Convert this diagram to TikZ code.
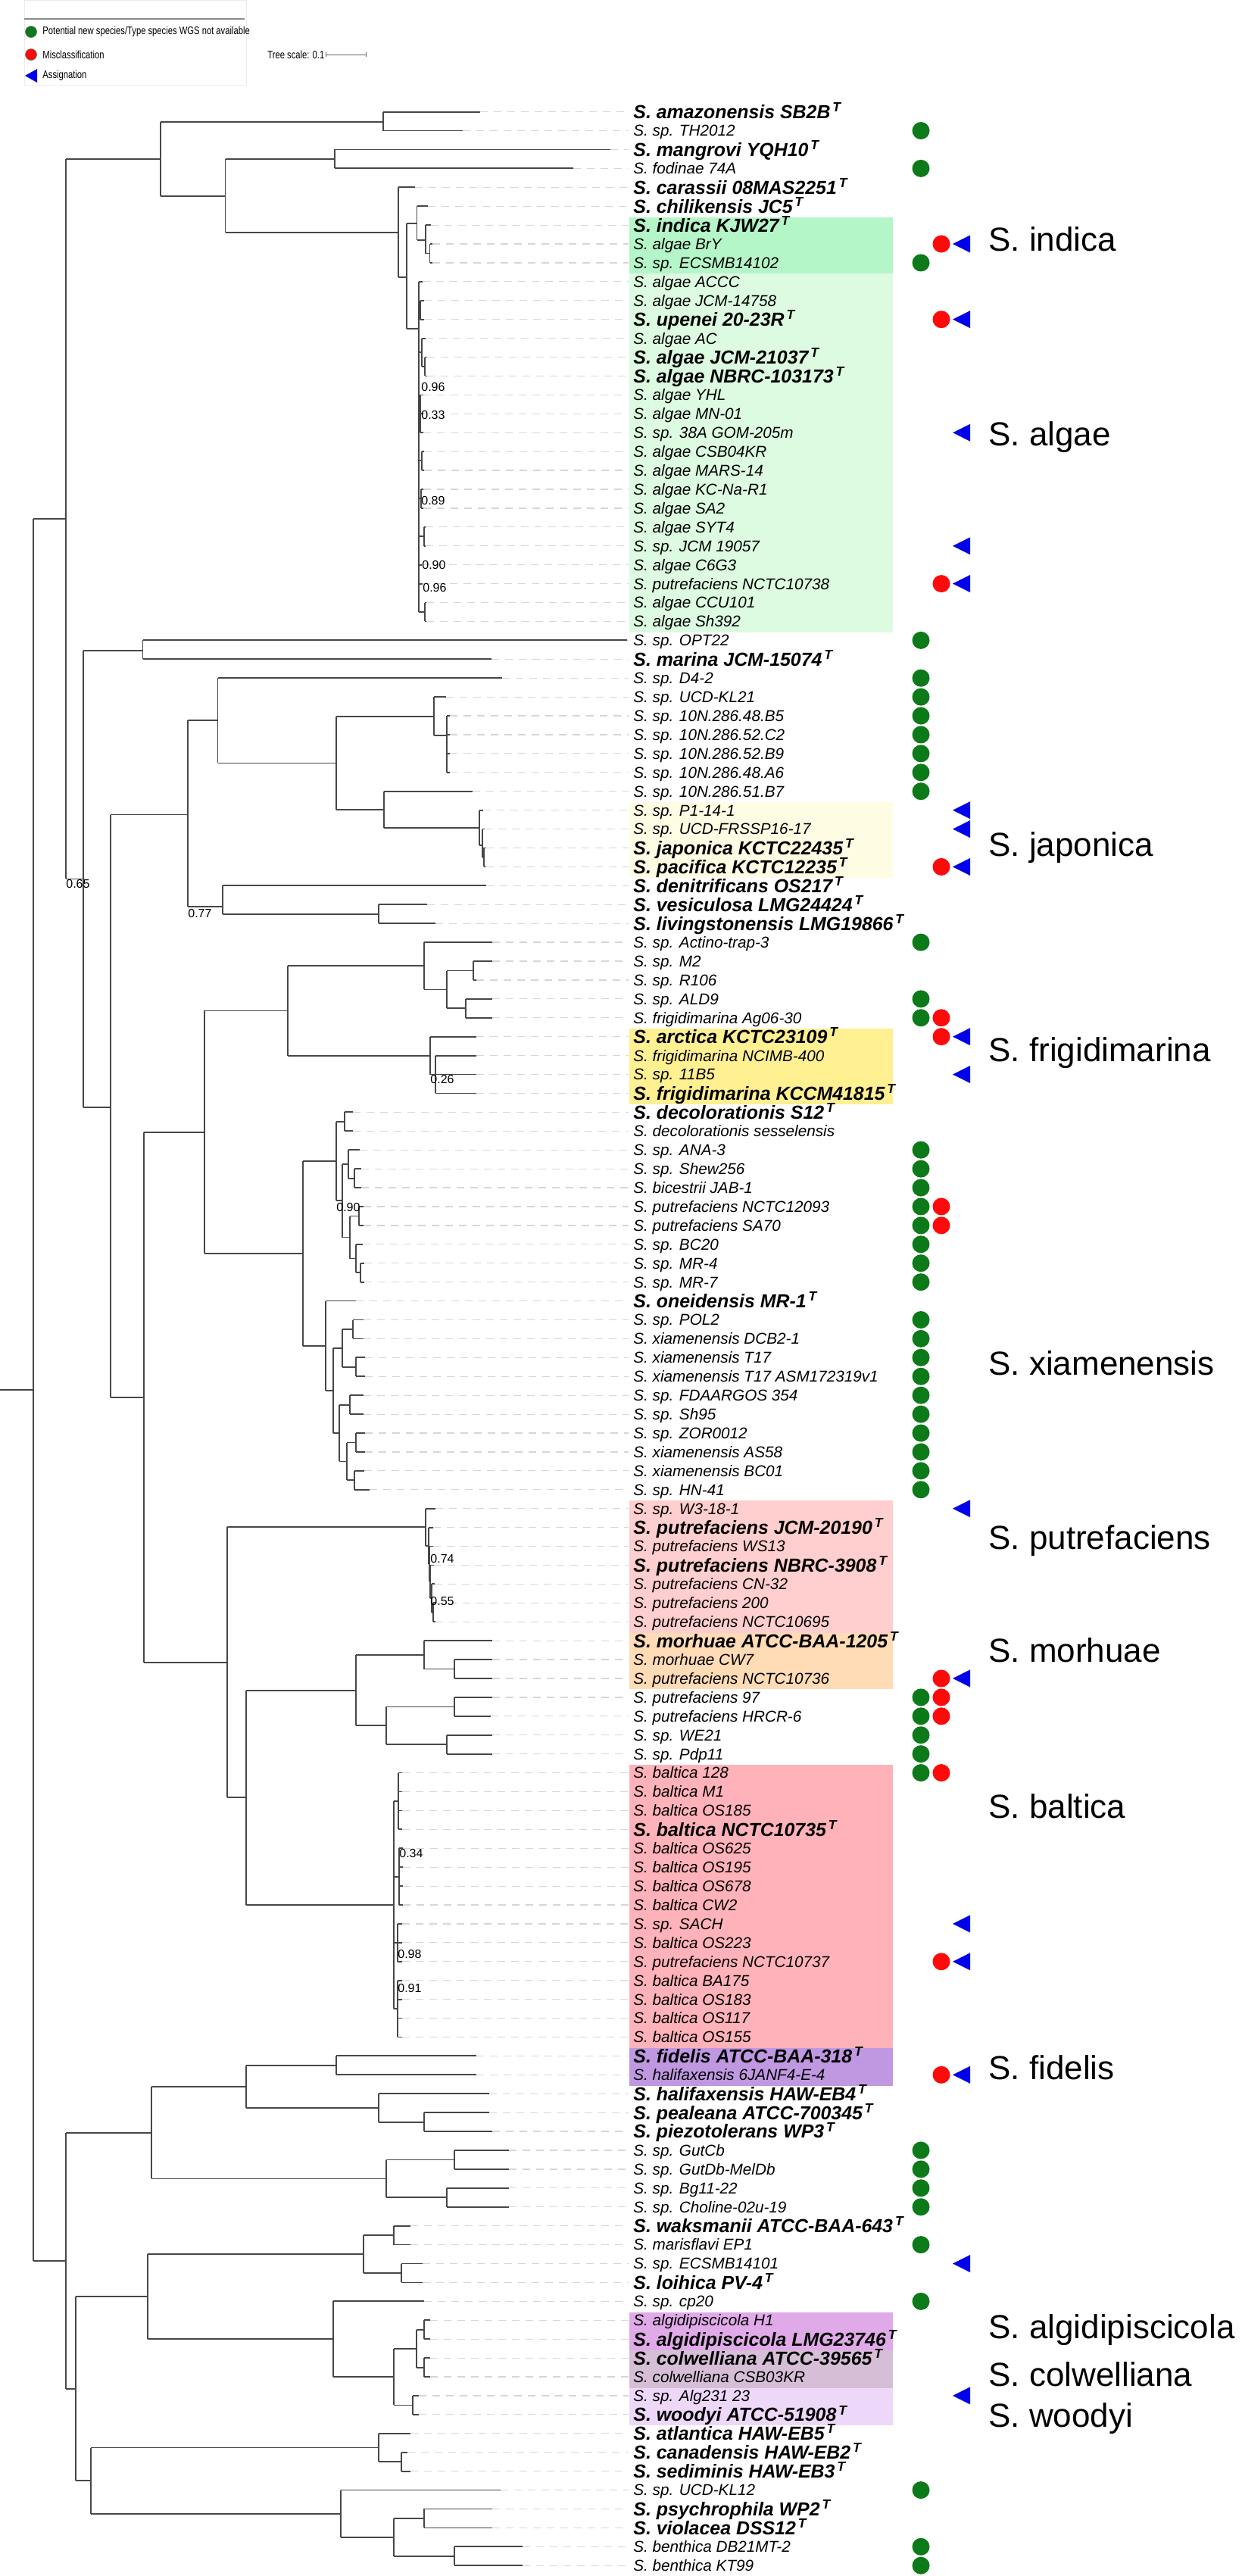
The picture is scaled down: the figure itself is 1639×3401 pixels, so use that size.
\documentclass[tikz,border=0pt]{standalone}
\usepackage{fontspec}
\setmainfont{Liberation Sans}
\usepackage{graphicx}
\definecolor{mgreen}{RGB}{12,122,24}
\definecolor{mred}{RGB}{255,10,10}
\definecolor{mblue}{RGB}{0,0,235}
\definecolor{cIndica}{RGB}{180,246,200}
\definecolor{cAlgae}{RGB}{220,251,224}
\definecolor{cJap}{RGB}{255,252,228}
\definecolor{cFrig}{RGB}{255,240,145}
\definecolor{cPut}{RGB}{255,206,206}
\definecolor{cMor}{RGB}{255,219,182}
\definecolor{cBal}{RGB}{255,178,186}
\definecolor{cFid}{RGB}{192,152,226}
\definecolor{cAlgi}{RGB}{224,170,232}
\definecolor{cCol}{RGB}{214,190,214}
\definecolor{cWoo}{RGB}{238,216,250}
\pgfmathdeclarefunction{ry}{1}{\pgfmathparse{147.6+(#1-1)*24.92}}
% leaf: row, x from, x tip
\newcommand\Tleaf[3]{\draw[br] (#2,{ry(#1)}) -- (#3,{ry(#1)}); \draw[lead] (#3,{ry(#1)}) -- (830,{ry(#1)});}
% vertical: x, y1, y2 (pixels)
\newcommand\Tv[3]{\draw[br] (#1,#2) -- (#1,#3);}
% vertical between rows
\newcommand\Tvr[3]{\draw[br] (#1,{ry(#2)}) -- (#1,{ry(#3)});}
% horizontal: x1, x2, y
\newcommand\Th[3]{\draw[br] (#1,#3) -- (#2,#3);}
\newcommand\Lab[2]{\node[lab] (L#1) at (836,{ry(#1)+7.4}) {S. #2};}
\newcommand\TLab[2]{\node[tlab] (L#1) at (836,{ry(#1)+8.9}) {S. #2\textsuperscript{\,T}};}
\newcommand\Gd[1]{\node[gdot] (g#1) at (1216,{ry(#1)}) {};}
\newcommand\Rd[1]{\node[rdot] (r#1) at (1243,{ry(#1)}) {};}
\newcommand\Bt[1]{\fill[mblue] (1258,{ry(#1)}) -- (1281,{ry(#1)-11.5}) -- (1281,{ry(#1)+11.5}) -- cycle;}
\newcommand\HBox[3]{\fill[#1] (831,{ry(#2)-10.4}) rectangle (1179,{ry(#3)+14.5});}
\begin{document}
\begin{tikzpicture}[x=0.5pt,y=-0.5pt,
  br/.style={draw=black!72, line width=0.9pt},
  lead/.style={draw=black!16, dash pattern=on 5pt off 4pt, line width=0.6pt},
  lab/.style={anchor=base west, inner sep=0pt, font=\fontsize{10.35}{12}\selectfont\itshape},
  tlab/.style={anchor=base west, inner sep=0pt, font=\fontsize{12.45}{14}\selectfont\bfseries\itshape},
  grp/.style={anchor=west, inner sep=0pt, font=\fontsize{22}{26}\selectfont},
  boot/.style={anchor=west, inner sep=0pt, font=\fontsize{8}{9}\selectfont},
  gdot/.style={circle, fill=mgreen, minimum size=11.5pt, inner sep=0pt},
  rdot/.style={circle, fill=mred, minimum size=11.5pt, inner sep=0pt},
  leg/.style={anchor=west, inner sep=0pt, font=\fontsize{7.2}{8}\selectfont}]
\useasboundingbox (0,0) rectangle (1639,3401);
\fill[white] (0,0) rectangle (1639,3401);
% legend
\draw[black!8] (32,0) rectangle (325,112);
\draw[black!45, line width=0.6pt] (32,25) -- (323,25);
\node[circle, fill=mgreen, draw=black!60, line width=0.3pt, minimum size=7.5pt, inner sep=0pt] (lg) at (41,42) {};
\node[circle, fill=mred, draw=black!60, line width=0.3pt, minimum size=7.5pt, inner sep=0pt] (lr) at (41,72) {};
\fill[mblue] (33,100) -- (49,91) -- (49,109) -- cycle;
\node[leg] (t1) at (56,42) {\scalebox{0.78}[1]{Potential new species/Type species WGS not available}};
\node[leg] (t2) at (56,72) {\scalebox{0.78}[1]{Misclassification}};
\node[leg] (t3) at (56,100) {\scalebox{0.78}[1]{Assignation}};
\node[leg] (ts) at (353,72) {\scalebox{0.78}[1]{Tree scale: 0.1}};
\draw[black!60, line width=0.5pt] (430,72) -- (483,72) (430,69) -- (430,75) (483,69) -- (483,75);
% highlight boxes
\HBox{cIndica}{7}{9}
\HBox{cAlgae}{10}{28}
\HBox{cJap}{38}{41}
\HBox{cFrig}{50}{53}
\HBox{cPut}{75}{81}
\HBox{cMor}{82}{84}
\HBox{cBal}{89}{103}
\HBox{cFid}{104}{105}
\HBox{cAlgi}{118}{119}
\HBox{cCol}{120}{121}
\HBox{cWoo}{122}{123}
% ---------------- tree ----------------
\Th{0}{44}{1834.7}
\Tv{44}{684.7}{2984.7}
\Th{44}{87.3}{684.7}
\Tv{87.3}{209.8}{1160.4}
\Th{87.3}{211.8}{209.8}
\Tv{211.8}{160.7}{259}
\Th{211.8}{505.6}{160.7}
\Tvr{505.6}{1}{2} \Tleaf{1}{505.6}{633.7} \Tleaf{2}{505.6}{611.4}
\Th{211.8}{297.5}{259}
\Tv{297.5}{209.9}{306.6}
\Th{297.5}{442}{209.9}
\Tvr{442}{3}{4} \Tleaf{3}{442}{805.7} \Tleaf{4}{442}{757}
\Th{297.5}{525.7}{306.6}
\Tv{525.7}{247.3}{366} \Tleaf{5}{525.7}{548}
\Th{525.7}{537}{366}
\Tv{537}{295}{434}
\Th{537}{550.5}{295}
\Tv{550.5}{272.2}{317} \Tleaf{6}{550.5}{565.4}
\Th{550.5}{562}{317}
\Tv{562}{297.1}{334.5} \Tleaf{7}{562}{569}
\Th{562}{567.5}{334.5}
\Tvr{567.5}{8}{9} \Tleaf{8}{567.5}{571} \Tleaf{9}{567.5}{571}
\Th{537}{553}{434}
% algae clade
\Tv{553}{371.9}{808}
\Tleaf{10}{553}{558}
\Th{553}{555}{409} \Tvr{555}{11}{12} \Tleaf{11}{555}{560} \Tleaf{12}{555}{560}
\Th{553}{557}{465} \Tv{557}{446.6}{484} \Tleaf{13}{557}{562} \Th{557}{561}{484} \Tvr{561}{14}{15} \Tleaf{14}{561}{564} \Tleaf{15}{561}{564}
\Th{553}{555}{546} \Tvr{555}{16}{18} \Tleaf{16}{555}{559} \Tleaf{17}{555}{559} \Tleaf{18}{555}{559}
\Th{553}{557}{608} \Tvr{557}{19}{20} \Tleaf{19}{557}{560} \Tleaf{20}{557}{560}
\Th{553}{556}{658} \Tvr{556}{21}{22} \Tleaf{21}{556}{559} \Tleaf{22}{556}{559}
\Th{553}{560}{708} \Tvr{560}{23}{24} \Tleaf{23}{560}{562} \Tleaf{24}{560}{562}
\Tleaf{25}{553}{557} \Tleaf{26}{553}{558}
\Th{553}{561}{808} \Tvr{561}{27}{28} \Tleaf{27}{561}{563} \Tleaf{28}{561}{563}
% lower part of upper clade
\Th{87.3}{110}{1160.4}
\Tv{110}{858.7}{1462}
\Th{110}{188.5}{858.7}
\Tvr{188.5}{29}{30} \Tleaf{29}{188.5}{828} \Tleaf{30}{188.5}{648.5}
\Th{110}{145.6}{1462}
\Tv{145.6}{1075.5}{1844.8}
\Th{145.6}{248.3}{1075.5}
\Tv{248.3}{951}{1196.8}
\Th{248.3}{287.5}{951}
\Tv{287.5}{895.2}{1007.4} \Tleaf{31}{287.5}{662.8}
\Th{287.5}{443.6}{1007.4}
\Tv{443.6}{945.7}{1069}
\Th{443.6}{573.3}{945.7}
\Tv{573.3}{920.1}{971} \Tleaf{32}{573.3}{589}
\Th{573.3}{590.3}{971}
\Tvr{590.3}{33}{36} \foreach \r in {33,...,36} {\Tleaf{\r}{590.3}{594}}
\Th{443.6}{507.2}{1069}
\Tv{507.2}{1044.6}{1093} \Tleaf{37}{507.2}{623.6}
\Th{507.2}{632.6}{1093}
\Tv{632.6}{1069.6}{1116} \Tleaf{38}{632.6}{638}
\Th{632.6}{636.8}{1116}
\Tv{636.8}{1094.5}{1131.9} \Tleaf{39}{636.8}{640}
\Th{636.8}{639}{1131.9}
\Tvr{639}{40}{41} \Tleaf{40}{639}{642} \Tleaf{41}{639}{642}
\Th{248.3}{293.8}{1196.8}
\Tv{293.8}{1169.3}{1206.7} \Tleaf{42}{293.8}{641.6}
\Th{293.8}{500}{1206.7}
\Tv{500}{1194.2}{1219.1} \Tleaf{43}{500}{563.8} \Tleaf{44}{500}{575}
% frigidimarina + xiamenensis
\Th{145.6}{190}{1844.8}
\Tv{190}{1494.7}{2194.8}
\Th{190}{270}{1494.7}
\Tv{270}{1334.4}{1654.9}
\Th{270}{380}{1334.4}
\Tv{380}{1275.2}{1393.6}
\Th{380}{560}{1275.2}
\Tv{560}{1244.1}{1306.4} \Tleaf{45}{560}{650}
\Th{560}{590}{1306.4}
\Tv{590}{1281.5}{1331.3}
\Th{590}{625}{1281.5} \Tvr{625}{46}{47} \Tleaf{46}{625}{650} \Tleaf{47}{625}{629}
\Th{590}{615}{1331.3} \Tvr{615}{48}{49} \Tleaf{48}{615}{650} \Tleaf{49}{615}{650}
\Th{380}{568}{1393.6}
\Tv{568}{1368.7}{1418.5} \Tleaf{50}{568}{629}
\Th{568}{575}{1418.5} \Tvr{575}{51}{53} \Tleaf{51}{575}{629} \Tleaf{52}{575}{629} \Tleaf{53}{575}{629}
\Th{270}{400}{1654.9}
\Tv{400}{1533}{1776.8}
\Th{400}{444}{1533}
\Tv{444}{1480.9}{1585.2}
\Th{444}{455}{1480.9} \Tvr{455}{54}{55} \Tleaf{54}{455}{466} \Tleaf{55}{455}{466}
\Th{444}{452}{1585.2}
\Tv{452}{1536.9}{1633.5}
\Th{452}{460}{1536.9} \Tv{460}{1518.2}{1555.6} \Tleaf{56}{460}{475}
\Th{460}{468}{1555.6} \Tvr{468}{57}{58} \Tleaf{57}{468}{477} \Tleaf{58}{468}{477}
\Th{452}{462}{1633.5} \Tv{462}{1605.5}{1661.5}
\Th{462}{474}{1605.5} \Tvr{474}{59}{60} \Tleaf{59}{474}{480} \Tleaf{60}{474}{480}
\Th{462}{470}{1661.5} \Tv{470}{1642.8}{1680.2} \Tleaf{61}{470}{479}
\Th{470}{476}{1680.2} \Tvr{476}{62}{63} \Tleaf{62}{476}{481} \Tleaf{63}{476}{481}
\Th{400}{430}{1776.8}
\Tv{430}{1717.6}{1836} \Tleaf{64}{430}{470}
\Th{430}{440}{1836}
\Tv{440}{1779.9}{1892}
\Th{440}{452}{1779.9} \Tv{452}{1755}{1804.8}
\Th{452}{466}{1755} \Tvr{466}{65}{66} \Tleaf{65}{466}{480} \Tleaf{66}{466}{480}
\Th{452}{470}{1804.8} \Tvr{470}{67}{68} \Tleaf{67}{470}{482} \Tleaf{68}{470}{482}
\Th{440}{448}{1892} \Tv{448}{1854.6}{1929.4}
\Th{448}{462}{1854.6} \Tvr{462}{69}{70} \Tleaf{69}{462}{480} \Tleaf{70}{462}{480}
\Th{448}{458}{1929.4} \Tv{458}{1904.5}{1954.3}
\Th{458}{470}{1904.5} \Tvr{470}{71}{72} \Tleaf{71}{470}{482} \Tleaf{72}{470}{482}
\Th{458}{468}{1954.3} \Tvr{468}{73}{74} \Tleaf{73}{468}{481} \Tleaf{74}{468}{488}
% putrefaciens / morhuae / baltica
\Th{190}{300}{2194.8}
\Tv{300}{2016.3}{2373.3}
\Th{300}{562}{2016.3}
\Tv{562}{1991.7}{2040.8} \Tleaf{75}{562}{575}
\Th{562}{566}{2040.8} \Tv{566}{2016.6}{2064.9} \Tleaf{76}{566}{572}
\Th{566}{567}{2064.9} \Tv{567}{2041.5}{2088.3} \Tleaf{77}{567}{572}
\Th{567}{568}{2088.3} \Tv{568}{2066.4}{2110.1} \Tleaf{78}{568}{573}
\Th{568}{570}{2110.1} \Tv{570}{2091.4}{2128.8} \Tleaf{79}{570}{574}
\Th{570}{572}{2128.8} \Tvr{572}{80}{81} \Tleaf{80}{572}{575} \Tleaf{81}{572}{575}
\Th{300}{325}{2373.3}
\Tv{325}{2231.6}{2515}
\Th{325}{470}{2231.6}
\Tv{470}{2184.8}{2278.3}
\Th{470}{560}{2184.8} \Tv{560}{2166.1}{2203.5} \Tleaf{82}{560}{650}
\Th{560}{600}{2203.5} \Tvr{600}{83}{84} \Tleaf{83}{600}{650} \Tleaf{84}{600}{650}
\Th{470}{510}{2278.3} \Tv{510}{2253.4}{2303.2}
\Th{510}{600}{2253.4} \Tvr{600}{85}{86} \Tleaf{85}{600}{650} \Tleaf{86}{600}{648}
\Th{510}{590}{2303.2} \Tvr{590}{87}{88} \Tleaf{87}{590}{650} \Tleaf{88}{590}{650}
\Th{325}{520}{2515}
\Tv{520}{2378}{2652}
\Th{520}{526}{2378} \Tvr{526}{89}{92} \foreach \r in {89,...,92} {\Tleaf{\r}{526}{531}}
\Th{520}{527}{2477.6} \Tvr{527}{93}{96} \foreach \r in {93,...,96} {\Tleaf{\r}{527}{532}}
\Th{520}{525}{2564.8} \Tvr{525}{97}{99} \foreach \r in {97,...,99} {\Tleaf{\r}{525}{531}}
\Th{520}{525}{2652} \Tvr{525}{100}{103} \foreach \r in {100,...,103} {\Tleaf{\r}{525}{531}}
% bottom clade
\Th{44}{87}{2984.7}
\Tv{87}{2815.7}{3153.6}
\Th{87}{200}{2815.7}
\Tv{200}{2754.9}{2876.4}
\Th{200}{325}{2754.9}
\Tv{325}{2726.9}{2782.9}
\Th{325}{444}{2726.9} \Tvr{444}{104}{105} \Tleaf{104}{444}{629} \Tleaf{105}{444}{629}
\Th{325}{500}{2782.9} \Tv{500}{2764.2}{2801.6} \Tleaf{106}{500}{646}
\Th{500}{560}{2801.6} \Tvr{560}{107}{108} \Tleaf{107}{560}{646} \Tleaf{108}{560}{650}
\Th{200}{510}{2876.4} \Tv{510}{2851.5}{2901.3}
\Th{510}{600}{2851.5} \Tvr{600}{109}{110} \Tleaf{109}{600}{672} \Tleaf{110}{600}{672}
\Th{510}{590}{2901.3} \Tvr{590}{111}{112} \Tleaf{111}{590}{672} \Tleaf{112}{590}{672}
\Th{87}{100}{3153.6}
\Tv{100}{3032.1}{3275.1}
\Th{100}{195}{3032.1}
\Tv{195}{2976}{3088.2}
\Th{195}{480}{2976} \Tv{480}{2951.1}{3001}
\Th{480}{520}{2951.1} \Tvr{520}{113}{114} \Tleaf{113}{520}{542} \Tleaf{114}{520}{542}
\Th{480}{530}{3001} \Tvr{530}{115}{116} \Tleaf{115}{530}{558} \Tleaf{116}{530}{558}
\Th{195}{440}{3088.2} \Tv{440}{3038.3}{3138} \Tleaf{117}{440}{560}
\Th{440}{520}{3138} \Tv{520}{3100.6}{3175.4}
\Th{520}{550}{3100.6} \Tv{550}{3075.7}{3125.6}
\Th{550}{560}{3075.7} \Tvr{560}{118}{119} \Tleaf{118}{560}{568} \Tleaf{119}{560}{568}
\Th{550}{560}{3125.6} \Tvr{560}{120}{121} \Tleaf{120}{560}{568} \Tleaf{121}{560}{568}
\Th{520}{545}{3175.4} \Tvr{545}{122}{123} \Tleaf{122}{545}{553} \Tleaf{123}{545}{553}
\Th{100}{120}{3275.1}
\Tv{120}{3231.5}{3318.7}
\Th{120}{500}{3231.5} \Tv{500}{3212.8}{3250.2} \Tleaf{124}{500}{542}
\Th{500}{530}{3250.2} \Tvr{530}{125}{126} \Tleaf{125}{530}{538} \Tleaf{126}{530}{542}
\Th{120}{450}{3318.7} \Tv{450}{3287.5}{3349.9} \Tleaf{127}{450}{661}
\Th{450}{520}{3349.9} \Tv{520}{3324.9}{3374.8}
\Th{520}{560}{3324.9} \Tvr{560}{128}{129} \Tleaf{128}{560}{650} \Tleaf{129}{560}{650}
\Th{520}{600}{3374.8} \Tvr{600}{130}{131} \Tleaf{130}{600}{690} \Tleaf{131}{600}{690}
% bootstrap
\node[boot] at (556,511.4) {0.96};
\node[boot] at (556,547.7) {0.33};
\node[boot] at (556,661.4) {0.89};
\node[boot] at (557,746.4) {0.90};
\node[boot] at (558,775.5) {0.96};
\node[boot] at (87,1167) {0.65};
\node[boot] at (248,1206) {0.77};
\node[boot] at (568,1425) {0.26};
\node[boot] at (444,1594) {0.90};
\node[boot] at (568,2058) {0.74};
\node[boot] at (568,2114) {0.55};
\node[boot] at (527,2447) {0.34};
\node[boot] at (525,2580) {0.98};
\node[boot] at (525,2625) {0.91};
% labels
\TLab{1}{amazonensis SB2B}
\Lab{2}{sp. TH2012}
\TLab{3}{mangrovi YQH10}
\Lab{4}{fodinae 74A}
\TLab{5}{carassii 08MAS2251}
\TLab{6}{chilikensis JC5}
\TLab{7}{indica KJW27}
\Lab{8}{algae BrY}
\Lab{9}{sp. ECSMB14102}
\Lab{10}{algae ACCC}
\Lab{11}{algae JCM-14758}
\TLab{12}{upenei 20-23R}
\Lab{13}{algae AC}
\TLab{14}{algae JCM-21037}
\TLab{15}{algae NBRC-103173}
\Lab{16}{algae YHL}
\Lab{17}{algae MN-01}
\Lab{18}{sp. 38A GOM-205m}
\Lab{19}{algae CSB04KR}
\Lab{20}{algae MARS-14}
\Lab{21}{algae KC-Na-R1}
\Lab{22}{algae SA2}
\Lab{23}{algae SYT4}
\Lab{24}{sp. JCM 19057}
\Lab{25}{algae C6G3}
\Lab{26}{putrefaciens NCTC10738}
\Lab{27}{algae CCU101}
\Lab{28}{algae Sh392}
\Lab{29}{sp. OPT22}
\TLab{30}{marina JCM-15074}
\Lab{31}{sp. D4-2}
\Lab{32}{sp. UCD-KL21}
\Lab{33}{sp. 10N.286.48.B5}
\Lab{34}{sp. 10N.286.52.C2}
\Lab{35}{sp. 10N.286.52.B9}
\Lab{36}{sp. 10N.286.48.A6}
\Lab{37}{sp. 10N.286.51.B7}
\Lab{38}{sp. P1-14-1}
\Lab{39}{sp. UCD-FRSSP16-17}
\TLab{40}{japonica KCTC22435}
\TLab{41}{pacifica KCTC12235}
\TLab{42}{denitrificans OS217}
\TLab{43}{vesiculosa LMG24424}
\TLab{44}{livingstonensis LMG19866}
\Lab{45}{sp. Actino-trap-3}
\Lab{46}{sp. M2}
\Lab{47}{sp. R106}
\Lab{48}{sp. ALD9}
\Lab{49}{frigidimarina Ag06-30}
\TLab{50}{arctica KCTC23109}
\Lab{51}{frigidimarina NCIMB-400}
\Lab{52}{sp. 11B5}
\TLab{53}{frigidimarina KCCM41815}
\TLab{54}{decolorationis S12}
\Lab{55}{decolorationis sesselensis}
\Lab{56}{sp. ANA-3}
\Lab{57}{sp. Shew256}
\Lab{58}{bicestrii JAB-1}
\Lab{59}{putrefaciens NCTC12093}
\Lab{60}{putrefaciens SA70}
\Lab{61}{sp. BC20}
\Lab{62}{sp. MR-4}
\Lab{63}{sp. MR-7}
\TLab{64}{oneidensis MR-1}
\Lab{65}{sp. POL2}
\Lab{66}{xiamenensis DCB2-1}
\Lab{67}{xiamenensis T17}
\Lab{68}{xiamenensis T17 ASM172319v1}
\Lab{69}{sp. FDAARGOS 354}
\Lab{70}{sp. Sh95}
\Lab{71}{sp. ZOR0012}
\Lab{72}{xiamenensis AS58}
\Lab{73}{xiamenensis BC01}
\Lab{74}{sp. HN-41}
\Lab{75}{sp. W3-18-1}
\TLab{76}{putrefaciens JCM-20190}
\Lab{77}{putrefaciens WS13}
\TLab{78}{putrefaciens NBRC-3908}
\Lab{79}{putrefaciens CN-32}
\Lab{80}{putrefaciens 200}
\Lab{81}{putrefaciens NCTC10695}
\TLab{82}{morhuae ATCC-BAA-1205}
\Lab{83}{morhuae CW7}
\Lab{84}{putrefaciens NCTC10736}
\Lab{85}{putrefaciens 97}
\Lab{86}{putrefaciens HRCR-6}
\Lab{87}{sp. WE21}
\Lab{88}{sp. Pdp11}
\Lab{89}{baltica 128}
\Lab{90}{baltica M1}
\Lab{91}{baltica OS185}
\TLab{92}{baltica NCTC10735}
\Lab{93}{baltica OS625}
\Lab{94}{baltica OS195}
\Lab{95}{baltica OS678}
\Lab{96}{baltica CW2}
\Lab{97}{sp. SACH}
\Lab{98}{baltica OS223}
\Lab{99}{putrefaciens NCTC10737}
\Lab{100}{baltica BA175}
\Lab{101}{baltica OS183}
\Lab{102}{baltica OS117}
\Lab{103}{baltica OS155}
\TLab{104}{fidelis ATCC-BAA-318}
\Lab{105}{halifaxensis 6JANF4-E-4}
\TLab{106}{halifaxensis HAW-EB4}
\TLab{107}{pealeana ATCC-700345}
\TLab{108}{piezotolerans WP3}
\Lab{109}{sp. GutCb}
\Lab{110}{sp. GutDb-MelDb}
\Lab{111}{sp. Bg11-22}
\Lab{112}{sp. Choline-02u-19}
\TLab{113}{waksmanii ATCC-BAA-643}
\Lab{114}{marisflavi EP1}
\Lab{115}{sp. ECSMB14101}
\TLab{116}{loihica PV-4}
\Lab{117}{sp. cp20}
\Lab{118}{algidipiscicola H1}
\TLab{119}{algidipiscicola LMG23746}
\TLab{120}{colwelliana ATCC-39565}
\Lab{121}{colwelliana CSB03KR}
\Lab{122}{sp. Alg231 23}
\TLab{123}{woodyi ATCC-51908}
\TLab{124}{atlantica HAW-EB5}
\TLab{125}{canadensis HAW-EB2}
\TLab{126}{sediminis HAW-EB3}
\Lab{127}{sp. UCD-KL12}
\TLab{128}{psychrophila WP2}
\TLab{129}{violacea DSS12}
\Lab{130}{benthica DB21MT-2}
\Lab{131}{benthica KT99}
% markers
\foreach \r in {2,4,9,29,31,32,33,34,35,36,37,45,48,49,56,57,58,59,60,61,62,63,65,66,67,68,69,70,71,72,73,74,85,86,87,88,89,109,110,111,112,114,117,127,130,131} {\Gd{\r}}
\foreach \r in {8,12,26,41,49,50,59,60,84,85,86,89,99,105} {\Rd{\r}}
\foreach \r in {8,12,18,24,26,38,39,41,50,52,75,84,97,99,105,115,122} {\Bt{\r}}
% group labels
\node[grp] (G1) at (1305,316) {S. indica};
\node[grp] (G2) at (1305,577) {S. algae};
\node[grp] (G3) at (1305,1119) {S. japonica};
\node[grp] (G4) at (1305,1390) {S. frigidimarina};
\node[grp] (G5) at (1305,1800) {S. xiamenensis};
\node[grp] (G6) at (1305,2034) {S. putrefaciens};
\node[grp] (G7) at (1305,2179) {S. morhuae};
\node[grp] (G8) at (1305,2385) {S. baltica};
\node[grp] (G9) at (1305,2730) {S. fidelis};
\node[grp] (G10) at (1305,3076) {S. algidipiscicola};
\node[grp] (G11) at (1305,3135) {S. colwelliana};
\node[grp] (G12) at (1305,3193) {S. woodyi};
\end{tikzpicture}
\end{document}
